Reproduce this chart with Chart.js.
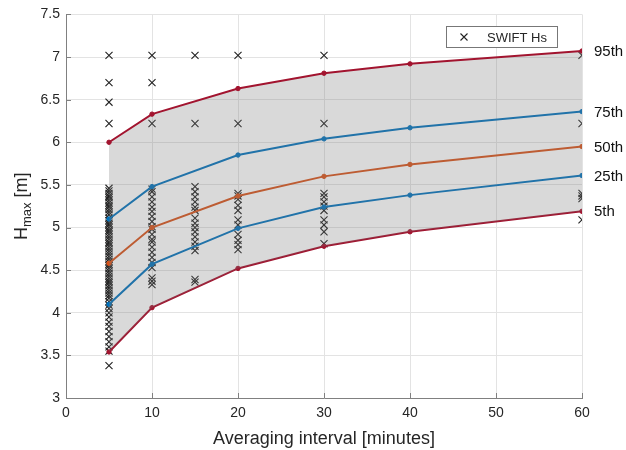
<!doctype html>
<html>
<head>
<script src="https://cdn.jsdelivr.net/npm/chart.js@4.4.1/dist/chart.umd.min.js"></script>
<style>
    body { margin: 0; background: #fff; }
    #wrap { width: 626px; height: 450px; }
</style>
</head>
<body>
<div id="wrap"><canvas id="chart" width="626" height="450"></canvas></div>
<script>
// averaging intervals (minutes) for the percentile curves
const intervals = [5, 10, 20, 30, 40, 60];

// percentile curves of Hmax [m]
const p95 = [6.00, 6.33, 6.63, 6.81, 6.92, 7.07];
const p75 = [5.10, 5.48, 5.85, 6.04, 6.17, 6.36];
const p50 = [4.58, 5.00, 5.37, 5.60, 5.74, 5.95];
const p25 = [4.10, 4.57, 4.99, 5.24, 5.38, 5.61];
const p05 = [3.54, 4.06, 4.52, 4.78, 4.95, 5.19];

// SWIFT Hs observations, one list per averaging interval
const swift5 = [7.02, 6.70, 6.47, 6.22, 5.46, 5.43, 5.40, 5.37, 5.35, 5.32, 5.29, 5.26, 5.24, 5.21,
    5.18, 5.15, 5.11, 5.08, 5.05, 5.03, 5.00, 4.97, 4.95, 4.92, 4.89, 4.86, 4.83, 4.81, 4.78, 4.75,
    4.72, 4.69, 4.66, 4.63, 4.60, 4.57, 4.55, 4.52, 4.49, 4.46, 4.43, 4.40, 4.37, 4.35, 4.32, 4.29,
    4.26, 4.23, 4.20, 4.17, 4.13, 4.09, 4.05, 4.00, 3.95, 3.89, 3.84, 3.78, 3.72, 3.66, 3.60, 3.55, 3.38];
const swift10 = [7.02, 6.70, 6.22, 5.45, 5.42, 5.36, 5.30, 5.24, 5.19, 5.13, 5.07, 5.01, 4.98, 4.92,
    4.86, 4.83, 4.77, 4.71, 4.65, 4.59, 4.53, 4.41, 4.37, 4.33];
const swift15 = [7.02, 6.22, 5.48, 5.42, 5.36, 5.30, 5.24, 5.20, 5.11, 5.05, 5.00, 4.95, 4.89, 4.83,
    4.78, 4.73, 4.39, 4.36];
const swift20 = [7.02, 6.22, 5.40, 5.37, 5.33, 5.26, 5.20, 5.09, 5.03, 4.92, 4.85, 4.80, 4.74];
const swift30 = [7.02, 6.22, 5.40, 5.36, 5.30, 5.25, 5.20, 5.09, 5.03, 4.95, 4.81];
const swift60 = [7.02, 6.22, 5.40, 5.37, 5.34, 5.09];

const tickFont = { family: 'Liberation Sans, Arial, sans-serif', size: 14 };
const textColor = '#262626';

function pts(xs, ys) {
    return ys.map((y, i) => ({ x: xs[i], y: y }));
}
function column(x, ys) {
    return ys.map(y => ({ x: x, y: y }));
}

const swiftPoints = [].concat(
    column(5, swift5), column(10, swift10), column(15, swift15),
    column(20, swift20), column(30, swift30), column(60, swift60)
);

function curve(label, vals, color, fill) {
    return {
        label: label,
        data: pts(intervals, vals),
        showLine: true,
        borderColor: color,
        backgroundColor: fill ? 'rgba(120,120,120,0.28)' : color,
        pointBackgroundColor: color,
        pointBorderColor: color,
        pointRadius: 2.2,
        pointBorderWidth: 1,
        borderWidth: 2,
        fill: fill ? '+4' : false,
        order: 0
    };
}

const crimson = 'rgb(162,20,47)';
const blue = 'rgb(0,114,189)';
const orange = 'rgb(217,83,25)';

const datasets = [
    curve('95th', p95, crimson, true),
    curve('75th', p75, blue, false),
    curve('50th', p50, orange, false),
    curve('25th', p25, blue, false),
    curve('5th', p05, crimson, false),
    {
        label: 'SWIFT Hs',
        data: swiftPoints,
        pointStyle: 'crossRot',
        pointRadius: 5,
        borderWidth: 1.1,
        borderColor: '#222',
        backgroundColor: '#222',
        showLine: false,
        order: 1
    }
];

// inward tick marks, labels at the right end of the curves, H_max title and legend box
const decorations = {
    id: 'decorations',
    afterDraw(chart) {
        const ctx = chart.ctx;
        const xs = chart.scales.x, ys = chart.scales.y;
        const area = chart.chartArea;
        ctx.save();
        ctx.strokeStyle = '#808080';
        ctx.lineWidth = 1;
        ctx.beginPath();
        xs.ticks.forEach(t => {
            const px = Math.round(xs.getPixelForValue(t.value)) + 0.5;
            ctx.moveTo(px, area.bottom);
            ctx.lineTo(px, area.bottom - 5);
        });
        ys.ticks.forEach(t => {
            const py = Math.round(ys.getPixelForValue(t.value)) + 0.5;
            ctx.moveTo(area.left, py);
            ctx.lineTo(area.left + 5, py);
        });
        ctx.stroke();

        ctx.fillStyle = '#111';
        ctx.font = '15px Liberation Sans, Arial, sans-serif';
        ctx.textBaseline = 'middle';
        ctx.textAlign = 'left';
        for (let i = 0; i < 5; i++) {
            const ds = chart.data.datasets[i];
            const last = ds.data[ds.data.length - 1];
            ctx.fillText(ds.label, area.right + 12, ys.getPixelForValue(last.y) + 1);
        }

        // y title with subscript
        ctx.translate(21, (area.top + area.bottom) / 2);
        ctx.rotate(-Math.PI / 2);
        ctx.fillStyle = textColor;
        ctx.textBaseline = 'alphabetic';
        const big = '18px Liberation Sans, Arial, sans-serif';
        const small = '13px Liberation Sans, Arial, sans-serif';
        ctx.font = big;
        const wH = ctx.measureText('H').width;
        const wU = ctx.measureText(' [m]').width;
        ctx.font = small;
        const wS = ctx.measureText('max').width;
        let x0 = -(wH + wS + wU) / 2;
        ctx.font = big;
        ctx.fillText('H', x0, 6);
        ctx.font = small;
        ctx.fillText('max', x0 + wH, 10);
        ctx.font = big;
        ctx.fillText(' [m]', x0 + wH + wS, 6);
        ctx.restore();

        // legend
        ctx.save();
        const lx = 446, ly = 26, lw = 111, lh = 21;
        ctx.fillStyle = '#fff';
        ctx.fillRect(lx, ly, lw, lh);
        ctx.strokeStyle = '#777';
        ctx.lineWidth = 1;
        ctx.strokeRect(lx + 0.5, ly + 0.5, lw, lh);
        ctx.strokeStyle = '#222';
        ctx.lineWidth = 1.1;
        const cx = lx + 18, cy = ly + lh / 2 + 0.5, r = 3.5;
        ctx.beginPath();
        ctx.moveTo(cx - r, cy - r); ctx.lineTo(cx + r, cy + r);
        ctx.moveTo(cx - r, cy + r); ctx.lineTo(cx + r, cy - r);
        ctx.stroke();
        ctx.fillStyle = textColor;
        ctx.font = '13px Liberation Sans, Arial, sans-serif';
        ctx.textBaseline = 'middle';
        ctx.fillText(chart.data.datasets[5].label, lx + 41, cy + 1);
        ctx.restore();
    }
};

const config = {
    type: 'scatter',
    data: { datasets: datasets },
    options: {
        responsive: false,
        animation: false,
        layout: { padding: { left: 0, right: 44, top: 14, bottom: 0 } },
        plugins: {
            legend: { display: false },
            tooltip: { enabled: false },
            filler: { propagate: false }
        },
        scales: {
            x: {
                type: 'linear',
                min: 0,
                max: 60,
                ticks: { stepSize: 10, font: tickFont, color: textColor, padding: 7 },
                grid: { color: '#e3e3e3', drawTicks: false },
                border: { color: '#808080', width: 1 },
                title: {
                    display: true,
                    text: 'Averaging interval [minutes]',
                    font: { family: 'Liberation Sans, Arial, sans-serif', size: 18 },
                    color: textColor,
                    padding: { top: 0, bottom: 0 }
                },
                afterFit(scale) { scale.height = 52; }
            },
            y: {
                min: 3,
                max: 7.5,
                ticks: {
                    stepSize: 0.5,
                    font: tickFont,
                    color: textColor,
                    padding: 6,
                    callback: v => String(v)
                },
                grid: { color: '#e3e3e3', drawTicks: false },
                border: { color: '#808080', width: 1 },
                afterFit(scale) { scale.width = 66; }
            }
        }
    },
    plugins: [decorations]
};

const ctx = document.getElementById('chart').getContext('2d');
const chart = new Chart(ctx, config);
</script>
</body>
</html>
